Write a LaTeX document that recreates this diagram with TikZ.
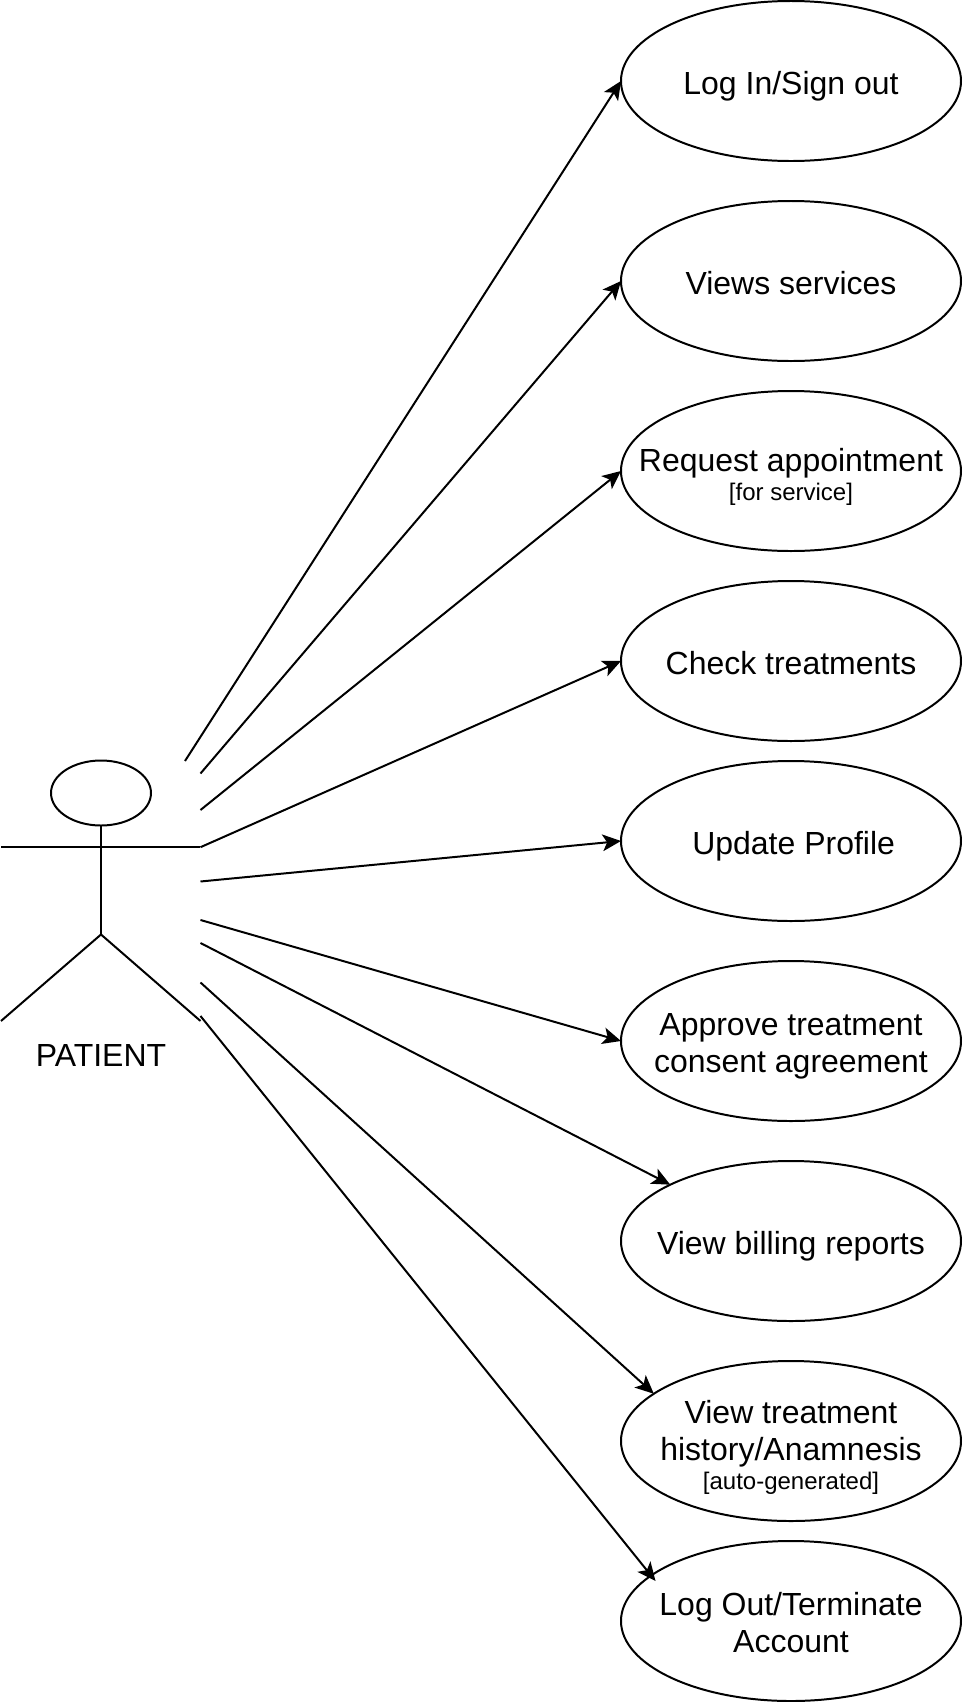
\documentclass[tikz,border=0pt]{standalone}
\usepackage{fontspec}
\setmainfont{Liberation Sans}
\usetikzlibrary{arrows.meta,shapes.geometric}
\newcommand{\subline}[1]{{\fontsize{13.66}{16.4}\selectfont #1}}
\tikzset{
  usecase/.style={ellipse,draw=black,line width=1.13pt,minimum width=6.8cm,minimum height=3.2cm,
    inner xsep=-1cm,inner ysep=0pt,outer sep=0pt,align=center,text depth=0pt,text height=14.9pt,
    font=\fontsize{18.2}{21.85}\selectfont},
  usearrow/.style={black,line width=1.13pt,-{Stealth[length=10.5pt,width=9.5pt,inset=2.6pt]}},
  actorline/.style={black,line width=1.13pt},
}
\begin{document}
\begin{tikzpicture}[scale=0.2]
\useasboundingbox (0,0) rectangle (96.2,-170.2);
\node [usecase] (login) at (79.1,-8.1) {Log In/Sign out};
\node [usecase] (services) at (79.1,-28.1) {Views services};
\node [usecase,text height=33.2pt] (request) at (79.1,-47.1) {Request appointment\\[-5.35pt]\subline{[for service]}};
\node [usecase] (treatments) at (79.1,-66.1) {Check treatments};
\node [usecase] (profile) at (79.1,-84.1) {\hspace{3pt}Update Profile};
\node [usecase,text height=36pt] (consent) at (79.1,-104.1) {Approve treatment\\[-0.6pt]consent agreement};
\node [usecase] (billing) at (79.1,-124.1) {View billing reports};
\node [usecase,text height=55.6pt] (history) at (79.1,-144.1) {View treatment\\[-0.6pt]history/Anamnesis\\[-5.35pt]\subline{[auto-generated]}};
\node [usecase,text height=36pt] (logout) at (79.1,-162.1) {Log Out/Terminate\\[-0.6pt]Account};
\node [ellipse,draw=black,line width=1.13pt,minimum width=2cm,minimum height=1.3cm,inner sep=0pt,outer sep=0pt] (head) at (10.1,-79.3) {};
\coordinate (armleft) at (0.1,-84.72);
\coordinate (armright) at (20.05,-84.72);
\coordinate (hip) at (10.1,-93.45);
\coordinate (footleft) at (0.1,-102.1);
\coordinate (footright) at (20.05,-102.1);
\draw [actorline] (armleft) -- (armright);
\draw [actorline] (head.south) -- (hip);
\draw [actorline] (footleft) -- (hip) -- (footright);
\node [font=\fontsize{18.2}{21.85}\selectfont] (patient) at (10.1,-105.5) {PATIENT};
\coordinate (fromlogin) at (18.5,-76.1);
\coordinate (fromservices) at (20.05,-77.35);
\coordinate (fromrequest) at (20.05,-81);
\coordinate (fromprofile) at (20.05,-88.15);
\coordinate (fromconsent) at (20.05,-92);
\coordinate (frombilling) at (20.05,-94.3);
\coordinate (fromhistory) at (20.05,-98.25);
\coordinate (fromlogout) at (20.05,-101.6);
\draw [usearrow] (fromlogin) -- (login.west);
\draw [usearrow] (fromservices) -- (services.west);
\draw [usearrow] (fromrequest) -- (request.west);
\draw [usearrow] (armright) -- (treatments.west);
\draw [usearrow] (fromprofile) -- (profile.west);
\draw [usearrow] (fromconsent) -- (consent.west);
\draw [usearrow] (frombilling) -- (billing.155);
\draw [usearrow] (fromhistory) -- (history.161);
\draw [usearrow,shorten >=-4pt] (fromlogout) -- (logout.162.4);
\end{tikzpicture}
\end{document}
